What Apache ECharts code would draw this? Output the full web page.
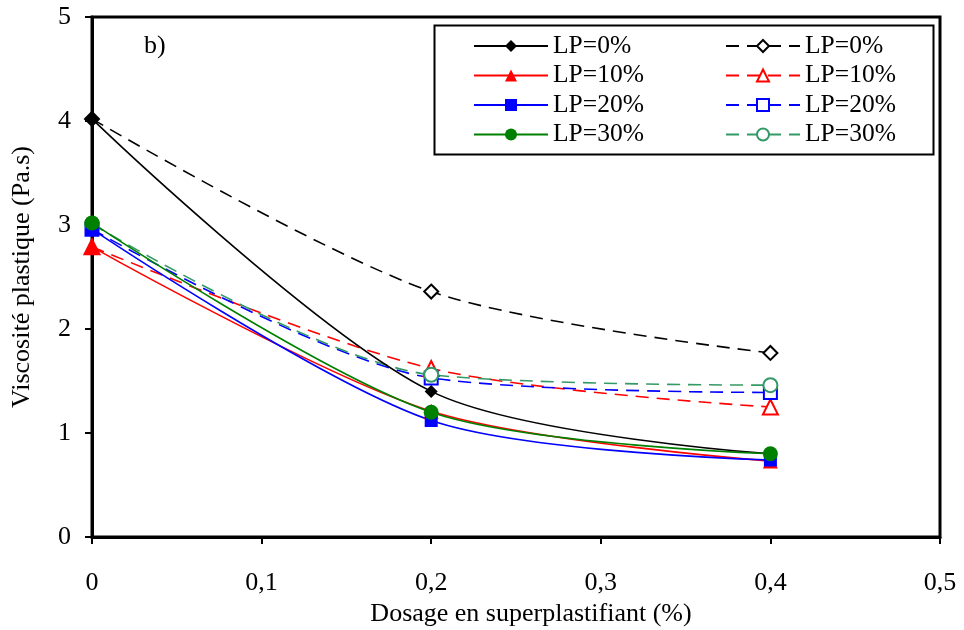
<!DOCTYPE html>
<html><head><meta charset="utf-8">
<script src="https://cdn.jsdelivr.net/npm/echarts@6/dist/echarts.min.js"></script>
<style>html,body{margin:0;padding:0;background:#fff}#c{width:964px;height:630px}</style>
</head><body><div id="c"></div>
<script>
const dosage = [0, 0.2, 0.4];
const xTickLabels = ['0', '0,1', '0,2', '0,3', '0,4', '0,5'];
const yTickLabels = ['0', '1', '2', '3', '4', '5'];
const legendLabels = ['LP=0%', 'LP=10%', 'LP=20%', 'LP=30%'];
// solid series (filled markers)
const solidLP0 = [4.02, 1.40, 0.80];
const solidLP10 = [2.79, 1.21, 0.73];
const solidLP20 = [2.96, 1.12, 0.74];
const solidLP30 = [3.02, 1.20, 0.80];
// dashed series (empty markers)
const dashLP0 = [4.02, 2.36, 1.77];
const dashLP10 = [2.79, 1.62, 1.25];
const dashLP20 = [2.96, 1.53, 1.39];
const dashLP30 = [3.01, 1.56, 1.46];

const FONT = '"Liberation Serif", "Times New Roman", serif';
const pairs = a => dosage.map((x, i) => [x, a[i]]);

function mk(id, data, color, symbol, size, dashed) {
  return {
    id: id, name: id, type: 'line', data: pairs(data), smooth: 0.3,
    symbol: symbol, symbolSize: size, clip: false,
    lineStyle: { color: color, width: 1.6, type: dashed ? [13, 8] : 'solid' },
    itemStyle: { color: color, borderColor: color, borderWidth: dashed ? 1.6 : 0 },
    emphasis: { disabled: true }, z: dashed ? 2 : 3
  };
}
const solidColors = ['#000000', '#ff0000', '#0000ff', '#008000'];
const dashColors = ['#000000', '#ff0000', '#0000ff', '#339966'];
const series = [
  mk('s0', solidLP0, solidColors[0], 'diamond', 13, false),
  mk('s1', solidLP10, solidColors[1], 'triangle', 15, false),
  mk('s2', solidLP20, solidColors[2], 'rect', 13, false),
  mk('s3', solidLP30, solidColors[3], 'circle', 15, false),
  mk('d0', dashLP0, dashColors[0], 'emptyDiamond', 14, true),
  mk('d1', dashLP10, dashColors[1], 'emptyTriangle', 15, true),
  mk('d2', dashLP20, dashColors[2], 'emptyRect', 13, true),
  mk('d3', dashLP30, dashColors[3], 'emptyCircle', 14, true)
];
const labelOf = n => legendLabels[+n.slice(1)];
const legendBase = {
  orient: 'vertical', itemWidth: 74, itemHeight: 15, itemGap: 3.5,
  textStyle: { fontFamily: FONT, fontSize: 25.5, color: '#000', lineHeight: 26 },
  formatter: labelOf, top: 33, padding: 0, selectedMode: false
};

const chart = echarts.init(document.getElementById('c'));
chart.setOption({
  animation: false,
  backgroundColor: '#fff',
  grid: { left: 92, right: 24, top: 17, bottom: 93, show: true, borderColor: '#000', borderWidth: 3,
    outerBoundsMode: 'none', containLabel: false },
  xAxis: {
    type: 'value', min: 0, max: 0.5, interval: 0.1,
    name: 'Dosage en superplastifiant (%)', nameLocation: 'middle', nameGap: 57,
    nameTextStyle: { fontFamily: FONT, fontSize: 26, color: '#000', padding: [0, 0, 0, 30] },
    axisLine: { lineStyle: { color: '#000', width: 3 } },
    axisTick: { show: true, length: 7, lineStyle: { color: '#000', width: 2 } },
    axisLabel: { fontFamily: FONT, fontSize: 26, color: '#000', margin: 33,
      formatter: v => xTickLabels[Math.round(v * 10)] },
    splitLine: { show: false }
  },
  yAxis: {
    type: 'value', min: 0, max: 5, interval: 1,
    name: 'Viscosité plastique (Pa.s)', nameLocation: 'middle', nameGap: 57,
    nameTextStyle: { fontFamily: FONT, fontSize: 26, color: '#000' },
    axisLine: { lineStyle: { color: '#000', width: 3 } },
    axisTick: { show: true, length: 7, lineStyle: { color: '#000', width: 2 } },
    axisLabel: { fontFamily: FONT, fontSize: 26, color: '#000', margin: 21,
      formatter: v => yTickLabels[Math.round(v)] },
    splitLine: { show: false }
  },
  legend: [
    Object.assign({}, legendBase, { left: 473, data: ['s0', 's1', 's2', 's3'] }),
    Object.assign({}, legendBase, { left: 725, data: ['d0', 'd1', 'd2', 'd3'] })
  ],
  graphic: [
    { type: 'rect', left: 432, top: 23, shape: { width: 499, height: 129 },
      style: { fill: 'none', stroke: '#000', lineWidth: 2 }, z: 1 },
    { type: 'text', left: 144, top: 33, style: { text: 'b)', fontFamily: FONT, fontSize: 26, fill: '#000' } }
  ],
  series: series
});
</script></body></html>
